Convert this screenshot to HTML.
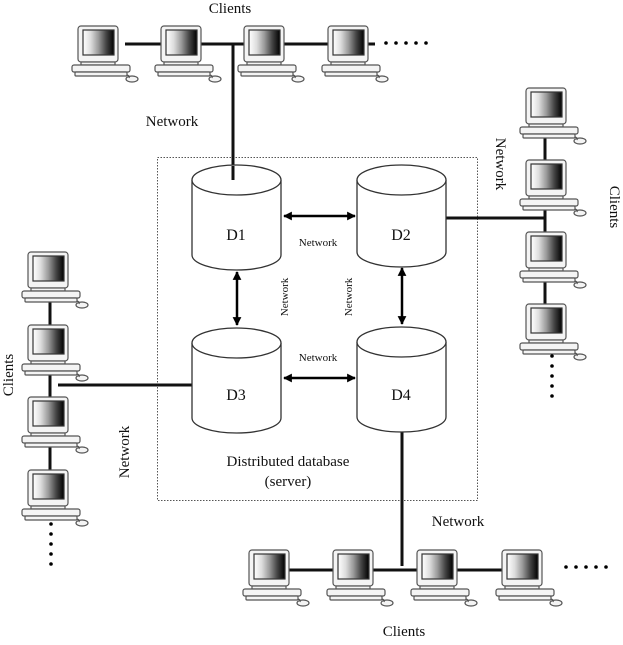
<!DOCTYPE html>
<html><head><meta charset="utf-8"><style>
html,body{margin:0;padding:0;background:#fff}
svg{display:block}
text{font-family:"Liberation Serif",serif;fill:#111}
</style></head><body>
<svg width="623" height="645" viewBox="0 0 623 645" xmlns="http://www.w3.org/2000/svg">
<defs>
<linearGradient id="scr" x1="0" x2="1" y1="0" y2="0">
<stop offset="0" stop-color="#fff"/><stop offset="0.25" stop-color="#ddd"/>
<stop offset="0.5" stop-color="#999"/><stop offset="0.75" stop-color="#444"/><stop offset="1" stop-color="#000"/>
</linearGradient>
<g id="pc" stroke="#555" stroke-width="1.2" fill="#f4f4f4">
<rect x="6" y="0" width="40" height="36" rx="3"/>
<rect x="11" y="4" width="31" height="25" fill="url(#scr)" stroke="#333"/>
<rect x="9" y="36" width="34" height="3"/>
<rect x="0" y="39" width="58" height="7" rx="2"/>
<rect x="3" y="46" width="52" height="4" rx="1"/>
<ellipse cx="60" cy="53" rx="6" ry="3"/>
<path d="M55 49 Q58 50 57 52" fill="none"/>
</g>
<marker id="ah" viewBox="0 0 10 10" refX="9" refY="5" markerWidth="3.5" markerHeight="3.5" orient="auto-start-reverse"><path d="M0 0L10 5L0 10z" fill="#000"/></marker>
</defs>
<!-- dotted server box -->
<rect x="157.5" y="157.5" width="320" height="343" fill="none" stroke="#555" stroke-dasharray="1.5 1.5"/>
<!-- lines -->
<g stroke="#111" stroke-width="3" fill="none">
<line x1="125" y1="44" x2="375" y2="44"/>
<line x1="233" y1="44" x2="233" y2="180"/>
<line x1="445" y1="218" x2="545" y2="218"/>
<line x1="545" y1="110" x2="545" y2="320"/>
<line x1="50" y1="275" x2="50" y2="490"/>
<line x1="58" y1="385" x2="193" y2="385"/>
<line x1="402" y1="430" x2="402" y2="566"/>
<line x1="262" y1="570" x2="535" y2="570"/>
</g>
<!-- computers -->
<use href="#pc" x="72" y="26"/><use href="#pc" x="155" y="26"/><use href="#pc" x="238" y="26"/><use href="#pc" x="322" y="26"/>
<use href="#pc" x="520" y="88"/><use href="#pc" x="520" y="160"/><use href="#pc" x="520" y="232"/><use href="#pc" x="520" y="304"/>
<use href="#pc" x="22" y="252"/><use href="#pc" x="22" y="325"/><use href="#pc" x="22" y="397"/><use href="#pc" x="22" y="470"/>
<use href="#pc" x="243" y="550"/><use href="#pc" x="327" y="550"/><use href="#pc" x="411" y="550"/><use href="#pc" x="496" y="550"/>
<!-- dots -->
<g fill="#000">
<circle cx="386" cy="43" r="1.8"/><circle cx="396" cy="43" r="1.8"/><circle cx="406" cy="43" r="1.8"/><circle cx="416" cy="43" r="1.8"/><circle cx="426" cy="43" r="1.8"/>
<circle cx="552" cy="356" r="1.8"/><circle cx="552" cy="366" r="1.8"/><circle cx="552" cy="376" r="1.8"/><circle cx="552" cy="386" r="1.8"/><circle cx="552" cy="396" r="1.8"/>
<circle cx="51" cy="524" r="1.8"/><circle cx="51" cy="534" r="1.8"/><circle cx="51" cy="544" r="1.8"/><circle cx="51" cy="554" r="1.8"/><circle cx="51" cy="564" r="1.8"/>
<circle cx="566" cy="567" r="1.8"/><circle cx="576" cy="567" r="1.8"/><circle cx="586" cy="567" r="1.8"/><circle cx="596" cy="567" r="1.8"/><circle cx="606" cy="567" r="1.8"/>
</g>
<!-- cylinders -->
<g stroke="#333" stroke-width="1.3" fill="#fff">
<path d="M192 180 L192 255 A44.5 15 0 0 0 281 255 L281 180"/><ellipse cx="236.5" cy="180" rx="44.5" ry="15"/>
<path d="M357 180 L357 252 A44.5 15 0 0 0 446 252 L446 180"/><ellipse cx="401.5" cy="180" rx="44.5" ry="15"/>
<path d="M192 343 L192 418 A44.5 15 0 0 0 281 418 L281 343"/><ellipse cx="236.5" cy="343" rx="44.5" ry="15"/>
<path d="M357 342 L357 417 A44.5 15 0 0 0 446 417 L446 342"/><ellipse cx="401.5" cy="342" rx="44.5" ry="15"/>
</g>
<line x1="233" y1="166" x2="233" y2="180" stroke="#111" stroke-width="3"/>
<!-- arrows -->
<g stroke="#000" stroke-width="2.5" marker-start="url(#ah)" marker-end="url(#ah)">
<line x1="284" y1="216" x2="355" y2="216"/>
<line x1="284" y1="378" x2="355" y2="378"/>
<line x1="237" y1="272" x2="237" y2="325"/>
<line x1="402" y1="268" x2="402" y2="324"/>
</g>
<!-- labels -->
<g font-size="16" text-anchor="middle">
<text x="236" y="240">D1</text><text x="401" y="240">D2</text>
<text x="236" y="400">D3</text><text x="401" y="400">D4</text>
</g>
<g font-size="11" text-anchor="middle">
<text x="318" y="246">Network</text><text x="318" y="361">Network</text>
<text transform="translate(288,297) rotate(-90)">Network</text>
<text transform="translate(352,297) rotate(-90)">Network</text>
</g>
<g font-size="15" text-anchor="middle">
<text x="230" y="13">Clients</text>
<text x="172" y="126">Network</text>
<text transform="translate(496,164) rotate(90)">Network</text>
<text transform="translate(610,207) rotate(90)">Clients</text>
<text transform="translate(13,375) rotate(-90)">Clients</text>
<text transform="translate(129,452) rotate(-90)">Network</text>
<text x="288" y="466">Distributed database</text>
<text x="288" y="486">(server)</text>
<text x="458" y="526">Network</text>
<text x="404" y="636">Clients</text>
</g>
</svg>
</body></html>
